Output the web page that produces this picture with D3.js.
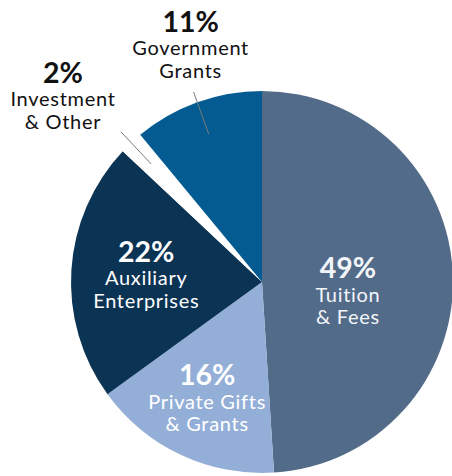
<!DOCTYPE html>
<html><head><meta charset="utf-8">
<script src="https://cdn.jsdelivr.net/npm/d3@7"></script>
<style>html,body{margin:0;padding:0;background:#fff;overflow:hidden}</style>
</head><body>
<svg id="chart" width="452" height="476"></svg>
<script>
// ---- data ----
const categories = ["Tuition|& Fees", "Private Gifts|& Grants", "Auxiliary|Enterprises", "Investment|& Other", "Government|Grants"];
const values = [49, 16, 22, 2, 11];
const pctLabels = ["49%", "16%", "22%", "2%", "11%"];
const colors = ["#526b89", "#94afd7", "#0b3354", "#ffffff", "#045b92"];

// ---- layout ----
const W = 452, H = 476, cx = 262, cy = 282, R = 191;
const FONT = "Lato, 'Open Sans', sans-serif";
const layout = [
  {inside: true, r: 86, dy: 12, fill: "#f2f5fa"},
  {inside: true, r: 129, dy: 0, fill: "#ffffff"},
  {inside: true, r: 114, dy: 0, fill: "#ffffff"},
  {inside: false, r0: 162, r1: 206, tx: -58, ty: -3, fill: "#111"},
  {inside: false, r0: 157, r1: 202, tx: -3, ty: -14, fill: "#111"}
];

const svg = d3.select("#chart");
const g = svg.append("g").attr("transform", `translate(${cx},${cy})`);

const pie = d3.pie().sort(null).value(d => d);
const arcs = pie(values);
const arc = d3.arc().innerRadius(0).outerRadius(R);

g.selectAll("path.slice").data(arcs).enter().append("path")
  .attr("class", "slice")
  .attr("d", arc)
  .attr("fill", (d, i) => colors[i]);

const pctSize = 28.5, lblSize = 20, lineH = 22.5;

arcs.forEach((d, i) => {
  const L = layout[i];
  const mid = (d.startAngle + d.endAngle) / 2;
  const lines = categories[i].split("|");
  let x, yLast;
  if (L.inside) {
    const c = d3.arc().innerRadius(L.r).outerRadius(L.r).centroid(d);
    x = c[0] - (i === 2 ? 2 : 0);
    const blockH = pctSize * 0.72 + lineH * lines.length;
    yLast = c[1] + L.dy + blockH / 2;
  } else {
    const p0 = [Math.sin(mid) * L.r0, -Math.cos(mid) * L.r0];
    const p1 = [Math.sin(mid) * L.r1, -Math.cos(mid) * L.r1];
    g.append("line").attr("x1", p0[0]).attr("y1", p0[1]).attr("x2", p1[0]).attr("y2", p1[1])
      .attr("stroke", "#7a7a7a").attr("stroke-width", 1);
    x = p1[0] + L.tx;
    yLast = p1[1] + L.ty;
  }
  const t = g.append("text").attr("text-anchor", "middle").attr("font-family", FONT).attr("fill", L.fill);
  const n = lines.length;
  t.append("tspan").attr("x", x).attr("y", yLast - n * lineH - 1)
    .attr("font-size", pctSize).attr("font-weight", 700).text(pctLabels[i]);
  lines.forEach((ln, k) => {
    t.append("tspan").attr("x", x).attr("y", yLast - (n - 1 - k) * lineH)
      .attr("font-size", lblSize).attr("letter-spacing", 0.7).text(ln);
  });
});
</script>
</body></html>
